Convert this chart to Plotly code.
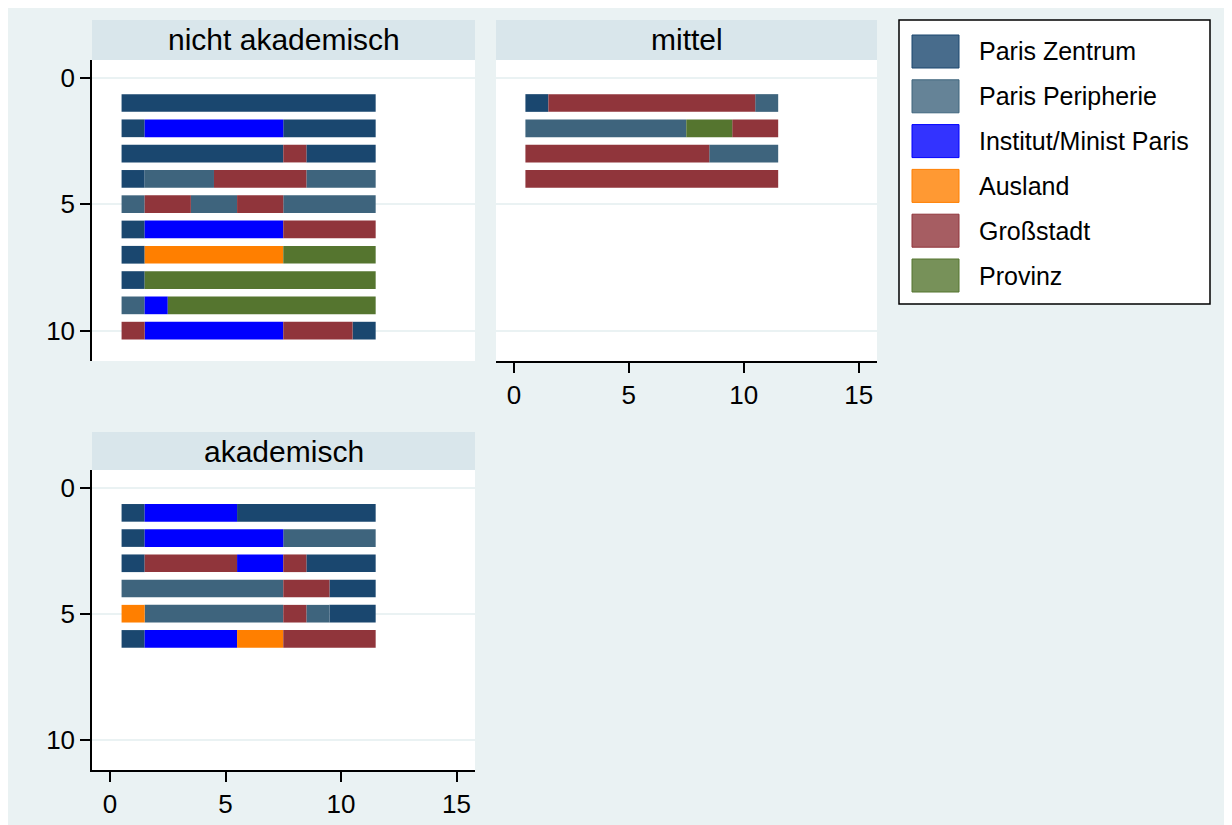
import plotly.graph_objects as go

# Zustände (Legende) und Kürzel in den Sequenzen
states = ["Paris Zentrum", "Paris Peripherie", "Institut/Minist Paris",
          "Ausland", "Großstadt", "Provinz"]
codes = ["Z", "P", "I", "A", "G", "V"]

panels = ["nicht akademisch", "mittel", "akademisch"]

# eine Zeile = eine Sequenz, ein Zeichen = ein Zeitpunkt (1..11)
seq_nicht_akademisch = [
    "ZZZZZZZZZZZ",
    "ZIIIIIIZZZZ",
    "ZZZZZZZGZZZ",
    "ZPPPGGGGPPP",
    "PGGPPGGPPPP",
    "ZIIIIIIGGGG",
    "ZAAAAAAVVVV",
    "ZVVVVVVVVVV",
    "PIVVVVVVVVV",
    "GIIIIIIGGGZ",
]
seq_mittel = [
    "ZGGGGGGGGGP",
    "PPPPPPPVVGG",
    "GGGGGGGGPPP",
    "GGGGGGGGGGG",
]
seq_akademisch = [
    "ZIIIIZZZZZZ",
    "ZIIIIIIPPPP",
    "ZGGGGIIGZZZ",
    "PPPPPPPGGZZ",
    "APPPPPPGPZZ",
    "ZIIIIAAGGGG",
]
sequences = [seq_nicht_akademisch, seq_mittel, seq_akademisch]

bar_colors = ["#1a476f", "#3e647d", "#0000ff", "#ff7f00", "#90353b", "#55752f"]
key_colors = ["#486c8c", "#658397", "#3333ff", "#ff9933", "#a65d62", "#779159"]

FONT = "Liberation Sans, Arial, sans-serif"
# die Seite hat 8px Rand, die Grafik füllt den Rest des Fensters
OFF = 8
W, H = 1232 - OFF, 825 - OFF


def px(x):
    return (x - OFF) / W


def py(y):
    return 1 - (y - OFF) / H


def runs(seq):
    out = []
    start = 0
    for t in range(1, len(seq) + 1):
        if t == len(seq) or seq[t] != seq[start]:
            out.append((seq[start], start + 1, t - start))
            start = t
    return out


fig = go.Figure()

for p, seqs in enumerate(sequences):
    sfx = "" if p == 0 else str(p + 1)
    for s, code in enumerate(codes):
        ys, bases, lens = [], [], []
        for row, seq in enumerate(seqs, start=1):
            for c, t0, n in runs(seq):
                if c == code:
                    ys.append(row)
                    bases.append(t0 - 0.5)
                    lens.append(n)
        if not ys:
            continue
        fig.add_trace(go.Bar(
            x=lens, y=ys, base=bases, orientation="h", width=0.7,
            marker=dict(color=bar_colors[s], line=dict(width=0)),
            name=states[s], showlegend=False,
            xaxis="x" + sfx, yaxis="y" + sfx,
        ))

# Panel-Layout
dom_x = [[px(92), px(475)], [px(496), px(877)], [px(92), px(475)]]
dom_y = [[py(361), py(60)], [py(361), py(60)], [py(770), py(470)]]
strip_top = [20, 20, 432]
strip_bot = [60, 60, 470]

axis_font = dict(family=FONT, size=26, color="black")
layout_axes = {}
for p in range(3):
    sfx = "" if p == 0 else str(p + 1)
    show_x = p != 0
    show_y = p != 1
    layout_axes["xaxis" + sfx] = dict(
        domain=dom_x[p], anchor="y" + sfx, range=[-0.78, 15.8],
        tickvals=[0, 5, 10, 15], showgrid=False, zeroline=False,
        showline=show_x, linecolor="black", linewidth=1.5,
        ticks="outside" if show_x else "", ticklen=10, tickwidth=1.5,
        tickcolor="black", showticklabels=show_x, tickfont=axis_font,
    )
    layout_axes["yaxis" + sfx] = dict(
        domain=dom_y[p], anchor="x" + sfx, range=[11.2, -0.7],
        tickvals=[0, 5, 10], showgrid=True, gridcolor="#eaf2f3",
        gridwidth=2, zeroline=False,
        showline=show_y, linecolor="black", linewidth=1.5,
        ticks="outside" if show_y else "", ticklen=10, tickwidth=1.5,
        tickcolor="black", showticklabels=show_y, tickfont=axis_font,
    )

shapes = []
annotations = []
for p, title in enumerate(panels):
    shapes.append(dict(type="rect", xref="paper", yref="paper",
                       x0=dom_x[p][0], x1=dom_x[p][1],
                       y0=py(strip_bot[p]), y1=py(strip_top[p]),
                       fillcolor="#d9e6eb", line=dict(width=0), layer="below"))
    annotations.append(dict(xref="paper", yref="paper",
                            x=(dom_x[p][0] + dom_x[p][1]) / 2,
                            y=py((strip_top[p] + strip_bot[p]) / 2),
                            text=title, showarrow=False,
                            font=dict(family=FONT, size=30, color="black"),
                            xanchor="center", yanchor="middle"))

# Legende als Kasten rechts oben
shapes.append(dict(type="rect", xref="paper", yref="paper",
                   x0=px(899), x1=px(1210), y0=py(304), y1=py(20),
                   fillcolor="white", line=dict(color="black", width=1.5)))
for i, name in enumerate(states):
    top = 35 + 44.8 * i
    shapes.append(dict(type="rect", xref="paper", yref="paper",
                       x0=px(912), x1=px(959), y0=py(top + 33), y1=py(top),
                       fillcolor=key_colors[i],
                       line=dict(color=bar_colors[i], width=1)))
    annotations.append(dict(xref="paper", yref="paper",
                            x=px(977), y=py(top + 16.5), text=name,
                            showarrow=False, xanchor="left", yanchor="middle",
                            font=dict(family=FONT, size=25, color="black")))

fig.update_layout(
    width=W, height=H,
    margin=dict(l=0, r=0, t=0, b=0),
    paper_bgcolor="#eaf2f3", plot_bgcolor="white",
    barmode="overlay", showlegend=False,
    shapes=shapes, annotations=annotations,
    font=dict(family=FONT),
    **layout_axes,
)

fig.write_html("out.html")
